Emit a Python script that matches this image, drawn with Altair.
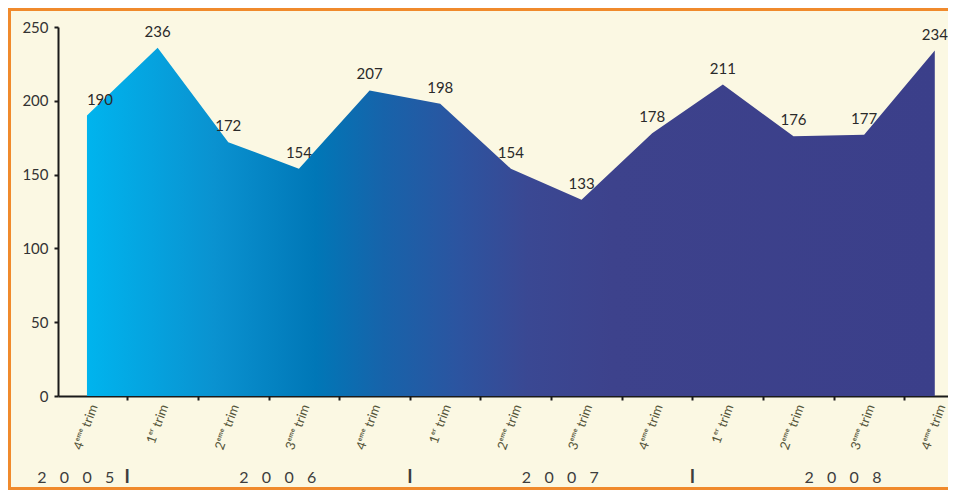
import altair as alt
import pandas as pd

quarters = ["4ᵉᵐᵉ trim", "1ᵉʳ trim", "2ᵉᵐᵉ trim", "3ᵉᵐᵉ trim", "4ᵉᵐᵉ trim",
            "1ᵉʳ trim", "2ᵉᵐᵉ trim", "3ᵉᵐᵉ trim", "4ᵉᵐᵉ trim",
            "1ᵉʳ trim", "2ᵉᵐᵉ trim", "3ᵉᵐᵉ trim", "4ᵉᵐᵉ trim"]
values = [190, 236, 172, 154, 207, 198, 154, 133, 178, 211, 176, 177, 234]
years = ["2005", "2006", "2007", "2008"]
year_first = [0, 1, 5, 9]
year_last = [0, 4, 8, 12]
y_ticks = [0, 50, 100, 150, 200, 250]

W, H = 890, 369
FONT = "Lato"
df = pd.DataFrame({"i": list(range(len(values))), "q": quarters, "v": values})

xs = alt.Scale(domain=[-0.41, 12.187], nice=False, zero=False)
ys = alt.Scale(domain=[0, 250], nice=False)
sep_off = 0.57
ticks = [i + sep_off for i in range(len(values) - 1)]

grad = alt.Gradient(
    gradient="linear", x1=0, x2=1, y1=0, y2=0,
    stops=[
        alt.GradientStop(offset=0.0, color="#00b4ee"),
        alt.GradientStop(offset=0.15, color="#0a92d0"),
        alt.GradientStop(offset=0.27, color="#0077b7"),
        alt.GradientStop(offset=0.35, color="#1763aa"),
        alt.GradientStop(offset=0.44, color="#2c54a0"),
        alt.GradientStop(offset=0.52, color="#3a4893"),
        alt.GradientStop(offset=0.62, color="#3d428c"),
        alt.GradientStop(offset=1.0, color="#3b3f8a"),
    ],
)

area = alt.Chart(df).mark_area(color=grad, interpolate="linear").encode(
    x=alt.X("i:Q", scale=xs, axis=alt.Axis(
        values=ticks, labels=False, title=None, grid=False,
        domainColor="#1a1a1a", domainWidth=2, tickColor="#1a1a1a",
        tickSize=4, tickWidth=2, tickOffset=0)),
    y=alt.Y("v:Q", scale=ys, axis=alt.Axis(
        values=y_ticks, title=None, grid=False, domainColor="#1a1a1a",
        domainWidth=2, tickColor="#1a1a1a", tickSize=4, tickWidth=2,
        labelFont=FONT, labelFontSize=15, labelColor="#333333",
        labelPadding=6)),
)

labels_first = alt.Chart(df).transform_filter("datum.i == 0").mark_text(
    dy=-16, dx=13, font=FONT, fontSize=15, color="#2a2a2a"
).encode(x=alt.X("i:Q", scale=xs), y=alt.Y("v:Q", scale=ys), text="v:Q")

labels = alt.Chart(df).transform_filter("datum.i > 0").mark_text(
    dy=-16, font=FONT, fontSize=15, color="#2a2a2a"
).encode(x=alt.X("i:Q", scale=xs), y=alt.Y("v:Q", scale=ys), text="v:Q")

qlabels = alt.Chart(df).transform_calculate(lx="datum.i + 0.1").mark_text(
    angle=290, align="right", baseline="middle", font=FONT, fontSize=13,
    color="#55553a"
).encode(x=alt.X("lx:Q", scale=xs), y=alt.value(H + 9), text="q:N")

SP = "\u00a0" * 3 + "\u200a"
ydf = pd.DataFrame({"y": years, "f": year_first, "l": year_last})
ydf["t"] = [SP.join(list(y)) for y in ydf["y"]]
year_first_lab = alt.Chart(ydf).transform_filter("datum.f == 0").transform_calculate(
    px=f"datum.l + {sep_off}"
).mark_text(align="right", dx=-13, font=FONT, fontSize=16, color="#3d3d3d").encode(
    x=alt.X("px:Q", scale=xs), y=alt.value(H + 82), text="t:N")
year_labs = alt.Chart(ydf).transform_filter("datum.f > 0").transform_calculate(
    px="(datum.f + datum.l) / 2 + 0.2"
).mark_text(align="center", font=FONT, fontSize=16, color="#3d3d3d").encode(
    x=alt.X("px:Q", scale=xs), y=alt.value(H + 82), text="t:N")
seps = alt.Chart(ydf).transform_filter("datum.l < 12").transform_calculate(
    px=f"datum.l + {sep_off}", s="'I'"
).mark_text(align="center", font=FONT, fontSize=18, fontWeight="bold",
            color="#3d3d3d").encode(
    x=alt.X("px:Q", scale=xs), y=alt.value(H + 82), text="s:N")

border = alt.Chart(pd.DataFrame({"a": [0]})).mark_rect(
    fill=None, stroke="#f08a2c", strokeWidth=3
).encode(x=alt.value(-48.5), x2=alt.value(W + 10), y=alt.value(-17.5),
         y2=alt.value(H + 92.5))

chart = alt.layer(area, labels_first, labels, qlabels, year_first_lab,
                  year_labs, seps, border).properties(
    width=W, height=H,
    autosize=alt.AutoSizeParams(type="none"),
    padding={"left": 50, "top": 19, "right": 0, "bottom": 94},
    background="#fbf8e3",
).configure_view(stroke=None)

chart.save("out.html", embed_options={"renderer": "svg", "actions": False})
